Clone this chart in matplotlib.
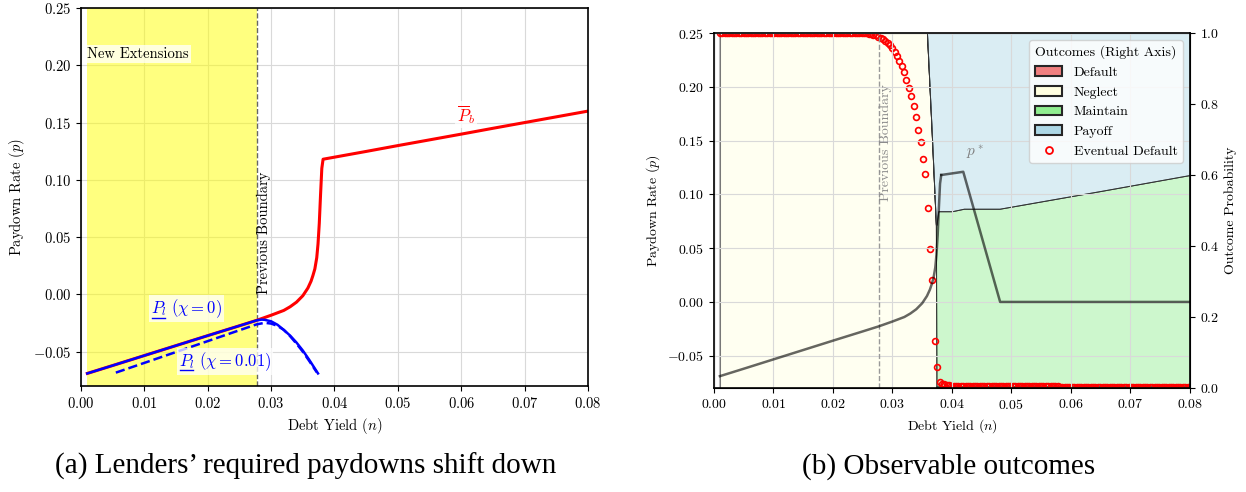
import matplotlib
matplotlib.use("Agg")
import matplotlib.pyplot as plt
import numpy as np
from matplotlib.colors import to_rgba
from matplotlib.lines import Line2D
from matplotlib.patches import Patch

plt.rcParams.update({
    "font.family": "serif",
    "font.serif": ["cmr10"],
    "mathtext.fontset": "cm",
    "axes.formatter.use_mathtext": True,
})

# borrower's maximum paydown P_b(n)
pb_n = [0.001, 0.005, 0.010, 0.015, 0.020, 0.025, 0.0277, 0.030, 0.032, 0.033,
        0.034, 0.035, 0.0358, 0.0363, 0.0366, 0.0369, 0.0372, 0.0374, 0.0376,
        0.0378, 0.0380, 0.0382, 0.045, 0.050, 0.055, 0.060, 0.065, 0.070,
        0.075, 0.080]
pb = [-0.0690, -0.0621, -0.0534, -0.0447, -0.0360, -0.0274, -0.0227, -0.0182,
      -0.0140, -0.0108, -0.0068, -0.0012, 0.0055, 0.0115, 0.0165, 0.0222,
      0.0320, 0.0440, 0.0620, 0.0870, 0.1100, 0.1180, 0.1248, 0.1299, 0.1349,
      0.1399, 0.1450, 0.1500, 0.1550, 0.1600]

# lenders' minimum paydown, chi = 0
pl0_n = [0.001, 0.005, 0.010, 0.015, 0.020, 0.025, 0.0277, 0.0285, 0.029,
         0.030, 0.031, 0.032, 0.033, 0.034, 0.035, 0.036, 0.0374]
pl0 = [-0.0690, -0.0621, -0.0534, -0.0447, -0.0360, -0.0274, -0.0227, -0.0220,
       -0.0222, -0.0235, -0.0265, -0.0310, -0.0360, -0.0420, -0.0490, -0.0570,
       -0.0690]

# lenders' minimum paydown, chi = 0.01
pl1_n = [0.0055, 0.010, 0.015, 0.020, 0.025, 0.0277, 0.029, 0.030, 0.031,
         0.032, 0.033, 0.034, 0.035, 0.036, 0.0372]
pl1 = [-0.0683, -0.0598, -0.0503, -0.0408, -0.0313, -0.0262, -0.0248, -0.0255,
       -0.0275, -0.0310, -0.0365, -0.0430, -0.0500, -0.0580, -0.0680]

# equilibrium paydown p* beyond the jump
pstar_n = [0.0382, 0.0419, 0.0481, 0.080]
pstar = [0.118, 0.121, 0.000, 0.000]

prev_boundary = 0.0277
new_ext_start = 0.001

# outcome shares (right axis)
out_n = [0.001, 0.0358, 0.0366, 0.0373, 0.0374, 0.0377, 0.0400, 0.0420,
         0.0480, 0.0650, 0.0800]
out_default = [0.0, 0.0, 0.0, 0.0, 0.004, 0.004, 0.004, 0.004, 0.004, 0.004, 0.004]
out_neglect = [1.0, 1.0, 0.72, 0.46, 0.0, 0.0, 0.0, 0.0, 0.0, 0.0, 0.0]
out_maintain = [0.0, 0.0, 0.0, 0.0, 0.456, 0.494, 0.494, 0.501, 0.501, 0.551, 0.596]
out_payoff = list(1.0 - np.array(out_default) - np.array(out_neglect)
                  - np.array(out_maintain))

# probability of eventual default on the simulation grid
ev_default = ([1.0] * 62 +
              [0.999, 0.998, 0.997, 0.995, 0.993, 0.990, 0.987, 0.983, 0.978,
               0.972, 0.965, 0.957, 0.947, 0.934, 0.921, 0.906, 0.889, 0.868,
               0.846, 0.823, 0.794, 0.763, 0.728, 0.694, 0.646, 0.603, 0.508,
               0.392, 0.303, 0.131, 0.059, 0.017] +
              [0.012, 0.010, 0.009, 0.008, 0.007, 0.007, 0.006, 0.006, 0.006, 0.006] +
              [0.005] * 40 + [0.004] * 56)
ev_n = np.linspace(0.001, 0.08, len(ev_default))

xticks = [0.0, 0.01, 0.02, 0.03, 0.04, 0.05, 0.06, 0.07, 0.08]
yticks = [-0.05, 0.0, 0.05, 0.10, 0.15, 0.20, 0.25]

fig = plt.figure(figsize=(12.46, 4.92), dpi=100)


def style_axes(ax, fs):
    ax.set_xlim(0, 0.08)
    ax.set_ylim(-0.08, 0.25)
    ax.set_xticks(xticks)
    ax.set_yticks(yticks)
    ax.grid(True, color="0.85", lw=0.8)
    ax.set_axisbelow(True)
    ax.tick_params(labelsize=fs)
    for s in ax.spines.values():
        s.set_linewidth(1.2)
    ax.set_xlabel("Debt Yield $(n)$", fontsize=fs)
    ax.set_ylabel("Paydown Rate $(p)$", fontsize=fs)


def underline_head(txt, head):
    r = fig.canvas.get_renderer()
    bb = txt.get_window_extent(r)
    probe = fig.text(0, 0, head, fontsize=txt.get_fontsize())
    w = probe.get_window_extent(r).width
    probe.remove()
    inv = fig.transFigure.inverted()
    x0, y0 = inv.transform((bb.x0 + 1, bb.y0 + 2.5))
    x1, _ = inv.transform((bb.x0 + w, bb.y0))
    fig.add_artist(Line2D([x0, x1], [y0, y0], color=txt.get_color(), lw=1.0))


# (a) lenders' required paydowns
ax = fig.add_axes([0.0650, 0.2154, 0.4069, 0.7683])
style_axes(ax, 10.5)
ax.axvspan(new_ext_start, prev_boundary, color="yellow", alpha=0.5, lw=0)
ax.axvline(prev_boundary, color="0.4", ls="--", lw=1.0)
ax.plot(pb_n, pb, color="red", lw=2.2)
ax.plot(pl0_n, pl0, color="blue", lw=1.8)
ax.plot(pl1_n, pl1, color="blue", lw=1.8, ls="--")

box = dict(facecolor="white", alpha=0.75, edgecolor="none", pad=1.5)
ax.text(0.001, 0.21, "New Extensions", fontsize=10.5, va="center", ha="left", bbox=box)
ax.text(prev_boundary + 0.0001, 0.0, "Previous Boundary", rotation=90,
        fontsize=10.5, ha="left", va="bottom")
ax.text(0.0608, 0.157, r"$\overline{P}_b$", color="red", fontsize=12,
        ha="center", va="center", bbox=box)
t0 = ax.text(0.0166, -0.0125, r"$P_l\ (\chi=0)$", color="blue", fontsize=12,
             ha="center", va="center", bbox=box)
t1 = ax.text(0.0227, -0.0585, r"$P_l\ (\chi=0.01)$", color="blue", fontsize=12,
             ha="center", va="center", bbox=box)

# (b) observable outcomes
axr = fig.add_axes([0.5730, 0.2114, 0.3820, 0.7215])
axp = axr.twinx()
axr.set_zorder(axp.get_zorder() + 1)
axr.patch.set_visible(False)
style_axes(axr, 10)

fills = [to_rgba(c, 0.45) for c in ["lightcoral", "lightyellow", "lightgreen", "lightblue"]]
axp.stackplot(out_n, out_default, out_neglect, out_maintain, out_payoff,
              colors=fills, edgecolor="0.2", lw=0.7)
axp.axvline(out_n[0], color="0.6", lw=1.5, alpha=0.6)
axp.plot(ev_n, ev_default, ls="none", marker="o", ms=4.2, mfc="none",
         mec="red", mew=1.2)
axp.set_ylim(0, 1)
axp.set_yticks([0.0, 0.2, 0.4, 0.6, 0.8, 1.0])
axp.tick_params(labelsize=10)
axp.set_ylabel("Outcome Probability", fontsize=10)

axr.axvline(prev_boundary, color="0.6", ls="--", lw=1.0)
axr.text(prev_boundary + 0.0001, 0.094, "Previous Boundary", rotation=90,
         fontsize=10, color="0.55", ha="left", va="bottom")
axr.plot(pb_n[:pb_n.index(0.0382) + 1], pb[:pb_n.index(0.0382) + 1],
         color="k", alpha=0.6, lw=1.8)
axr.plot(pstar_n, pstar, color="k", alpha=0.6, lw=1.8)
axr.text(0.0439, 0.139, r"$p^*$", color="0.5", fontsize=11, ha="center", va="center")

handles = [Patch(facecolor="lightcoral", edgecolor="0.15", lw=1.5),
           Patch(facecolor="lightyellow", edgecolor="0.15", lw=1.5),
           Patch(facecolor="lightgreen", edgecolor="0.15", lw=1.5),
           Patch(facecolor="lightblue", edgecolor="0.15", lw=1.5),
           Line2D([], [], ls="none", marker="o", ms=5, mfc="none", mec="red", mew=1.3)]
labels = ["Default", "Neglect", "Maintain", "Payoff", "Eventual Default"]
axr.legend(handles, labels, title="Outcomes (Right Axis)", loc="upper right",
           fontsize=10, title_fontsize=10, framealpha=0.8)

underline_head(t0, r"$P$")
underline_head(t1, r"$P$")

fig.text(0.2456, 0.052, "(a) Lenders\u2019 required paydowns shift down",
         family="Liberation Serif", fontsize=21, ha="center", va="center")
fig.text(0.7610, 0.052, "(b) Observable outcomes",
         family="Liberation Serif", fontsize=21, ha="center", va="center")

fig.savefig("out.png", dpi=100)
